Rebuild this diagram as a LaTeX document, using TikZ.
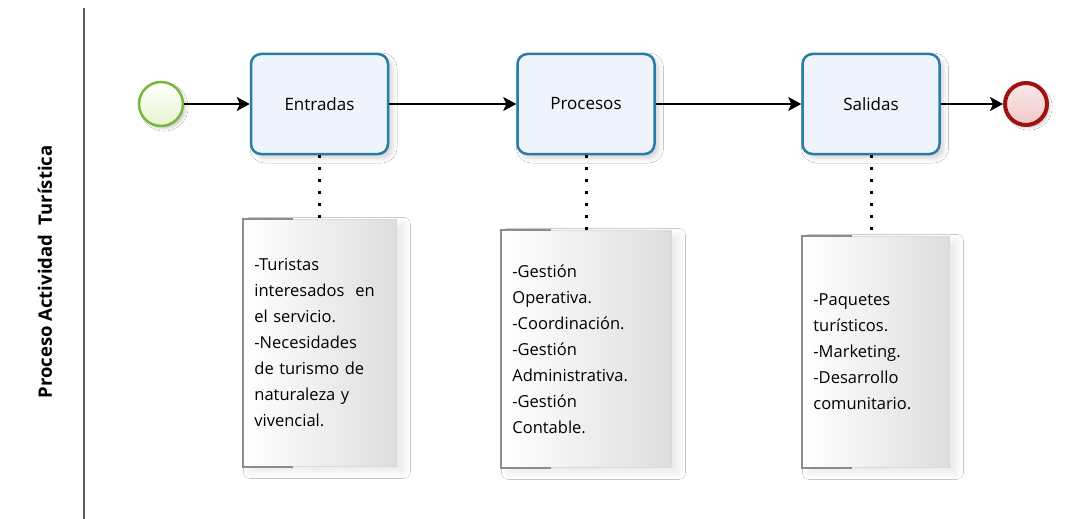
\documentclass[tikz,border=0pt]{standalone}
\usepackage{fontspec}
\setmainfont{Open Sans}
\usetikzlibrary{arrows.meta,shadows.blur}
\definecolor{taskblue}{RGB}{40,124,170}
\definecolor{taskfill}{RGB}{238,243,252}
\definecolor{startgreen}{RGB}{122,182,58}
\definecolor{startfill}{RGB}{230,245,205}
\definecolor{endred}{RGB}{160,18,18}
\definecolor{endfill}{RGB}{242,200,200}
\tikzset{
  task/.style={rectangle,rounded corners=10pt,draw=taskblue,line width=2.5pt,fill=taskfill,
    minimum width=137pt,minimum height=100pt,font=\fontsize{17}{20}\selectfont,
    blur shadow={shadow xshift=4pt,shadow yshift=-4pt,shadow blur radius=5pt,shadow opacity=18}},
  startev/.style={circle,draw=startgreen,line width=2.5pt,top color=white,bottom color=startfill,
    minimum size=44pt,inner sep=0pt,blur shadow={shadow xshift=3pt,shadow yshift=-3pt,shadow opacity=18}},
  endev/.style={circle,draw=endred,line width=4pt,top color=white!60!endfill,bottom color=endfill,
    minimum size=42pt,inner sep=0pt,blur shadow={shadow xshift=3pt,shadow yshift=-3pt,shadow opacity=18}},
  note/.style={rectangle,anchor=north west,draw=black!15,line width=0.8pt,left color=white,right color=black!13,
    inner xsep=11pt,inner ysep=0pt,align=left,font=\fontsize{16.5}{26}\selectfont,
    blur shadow={shadow xshift=7pt,shadow yshift=-5pt,shadow blur radius=7pt,shadow blur steps=14,shadow opacity=9}},
  bracket/.style={draw=black!45,line width=1.5pt},
  flow/.style={-{Stealth[length=13pt,width=14pt,inset=3pt]},line width=1.5pt},
  assoc/.style={line width=3pt,dash pattern=on 3pt off 9pt},
  lanelabel/.style={rotate=90,font=\fontsize{18.5}{22}\selectfont\bfseries}
}

\begin{document}
\begin{tikzpicture}[x=1pt,y=-1pt]
  \useasboundingbox[fill=white] (0,0) rectangle (1068,519);

  % carril
  \draw[black!65,line width=2pt] (84,8) -- (84,519);
  \node[lanelabel] (lane) at (45,272) {Proceso Actividad\ \ Turística};

  % eventos y tareas
  \node[startev] (inicio) at (161,104) {};
  \node[task] (entradas) at (319.5,104) {Entradas};
  \node[task] (procesos) at (586,104) {Procesos};
  \node[task] (salidas) at (871,104) {Salidas};
  \node[endev] (fin) at (1026,104) {};

  \draw[flow] (inicio) -- (entradas);
  \draw[flow] (entradas) -- (procesos);
  \draw[flow] (procesos) -- (salidas);
  \draw[flow] (salidas) -- (fin);

  % anotaciones
  \node[note,minimum width=153pt,minimum height=247pt,text width=131pt] (nota1) at (243,219)
    {-Turistas\\interesados\ \ en\\el servicio.\\-Necesidades\\de turismo de\\naturaleza y\\vivencial.};
  \node[note,minimum width=170pt,minimum height=237pt,text width=148pt] (nota2) at (501,230)
    {-Gestión\\Operativa.\\-Coordinación.\\-Gestión\\Administrativa.\\-Gestión\\Contable.};
  \node[note,minimum width=147pt,minimum height=231pt,text width=125pt] (nota3) at (802,236)
    {-Paquetes\\turísticos.\\-Marketing.\\-Desarrollo\\comunitario.};

  \foreach \n in {nota1,nota2,nota3}
    \draw[bracket] ([xshift=50pt]\n.north west) -- (\n.north west) -- (\n.south west) -- ([xshift=50pt]\n.south west);

  \draw[assoc] (entradas.south) -- (entradas.south |- nota1.north);
  \draw[assoc] (procesos.south) -- (procesos.south |- nota2.north);
  \draw[assoc] (salidas.south) -- (salidas.south |- nota3.north);
\end{tikzpicture}
\end{document}
